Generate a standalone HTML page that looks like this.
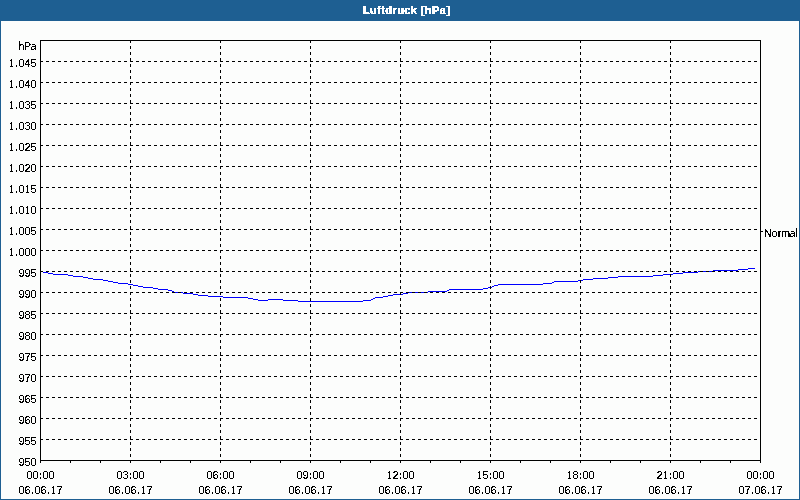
<!DOCTYPE html>
<html><head><meta charset="utf-8"><title>Luftdruck [hPa]</title><style>
html,body{margin:0;padding:0;}
body{width:800px;height:500px;overflow:hidden;background:#fcfdfc;}
svg{display:block;}
text{font-family:"Liberation Sans",Arial,sans-serif;font-size:11px;fill:#000;text-anchor:middle;}
.ti{font-weight:bold;fill:#fff;text-anchor:start;letter-spacing:0.4px;}
</style></head><body>
<svg width="800" height="500" viewBox="0 0 800 500">
<defs><filter id="crisp" x="-5%" y="-5%" width="110%" height="110%" color-interpolation-filters="sRGB"><feComponentTransfer><feFuncA type="discrete" tableValues="0 0 1 1 1"/></feComponentTransfer></filter><filter id="crispb" x="-5%" y="-5%" width="110%" height="110%" color-interpolation-filters="sRGB"><feComponentTransfer><feFuncA type="discrete" tableValues="0 1 1 1"/></feComponentTransfer></filter></defs>
<rect x="0" y="0" width="800" height="500" fill="#fcfdfc"/>
<rect x="0" y="0" width="800" height="21" fill="#1e5f92"/>
<path d="M0.5 21V499.5H799.5V21" stroke="#1e5f92" stroke-width="1" fill="none" shape-rendering="crispEdges"/>
<path d="M40 271.5H43M43 272.5H48M48 273.5H53M53 274.5H68M68 275.5H73M73 276.5H83M83 277.5H88M88 278.5H93M93 279.5H103M103 280.5H108M108 281.5H113M113 282.5H118M118 283.5H128M128 284.5H133M133 285.5H138M138 286.5H143M143 287.5H153M153 288.5H158M158 289.5H168M168 290.5H172M172 291.5H174M174 292.5H183M183 293.5H193M193 294.5H198M198 295.5H208M208 296.5H223M223 297.5H248M248 298.5H253M253 299.5H258M258 300.5H268M268 299.5H283M283 300.5H298M298 301.5H363M363 300.5H371M371 299.5H373M373 298.5H375M375 297.5H383M383 296.5H388M388 295.5H393M393 294.5H403M403 293.5H408M408 292.5H428M428 291.5H447M447 290.5H449M449 289.5H483M483 288.5H488M488 287.5H492M492 286.5H494M494 285.5H498M498 284.5H543M543 283.5H552M552 282.5H554M554 281.5H578M578 280.5H583M583 279.5H593M593 278.5H608M608 277.5H618M618 276.5H653M653 275.5H663M663 274.5H673M673 273.5H683M683 272.5H698M698 271.5H713M713 270.5H738M738 269.5H748M748 268.5H755" stroke="#0000ff" stroke-width="1" fill="none" shape-rendering="crispEdges"/>
<path d="M40 61.5H760M40 82.5H760M40 103.5H760M40 124.5H760M40 145.5H760M40 166.5H760M40 187.5H760M40 208.5H760M40 229.5H760M40 250.5H760M40 271.5H760M40 292.5H760M40 313.5H760M40 334.5H760M40 355.5H760M40 376.5H760M40 397.5H760M40 418.5H760M40 439.5H760M130.5 40V460M220.5 40V460M310.5 40V460M400.5 40V460M490.5 40V460M580.5 40V460M670.5 40V460" stroke="#000" stroke-width="1" stroke-dasharray="3 3" fill="none" shape-rendering="crispEdges"/>
<path d="M40.5 40V463M760.5 40V463M40 40.5H761M40 460.5H761M40.5 460V463M70.5 460V463M100.5 460V463M130.5 460V463M160.5 460V463M190.5 460V463M220.5 460V463M250.5 460V463M280.5 460V463M310.5 460V463M340.5 460V463M370.5 460V463M400.5 460V463M430.5 460V463M460.5 460V463M490.5 460V463M520.5 460V463M550.5 460V463M580.5 460V463M610.5 460V463M640.5 460V463M670.5 460V463M700.5 460V463M730.5 460V463M760.5 460V463M761 231.5H763" stroke="#000" stroke-width="1" fill="none" shape-rendering="crispEdges"/>
<text class="ti" x="363" y="14" filter="url(#crispb)">Luftdruck [hPa]</text>
<g filter="url(#crisp)">
<text x="11.5 16.5 21.5 27.5 33.5" y="67">1.045</text>
<text x="11.5 16.5 21.5 27.5 33.5" y="88">1.040</text>
<text x="11.5 16.5 21.5 27.5 33.5" y="109">1.035</text>
<text x="11.5 16.5 21.5 27.5 33.5" y="130">1.030</text>
<text x="11.5 16.5 21.5 27.5 33.5" y="151">1.025</text>
<text x="11.5 16.5 21.5 27.5 33.5" y="172">1.020</text>
<text x="11.5 16.5 21.5 27.5 33.5" y="193">1.015</text>
<text x="11.5 16.5 21.5 27.5 33.5" y="214">1.010</text>
<text x="11.5 16.5 21.5 27.5 33.5" y="235">1.005</text>
<text x="11.5 16.5 21.5 27.5 33.5" y="256">1.000</text>
<text x="21.5 27.5 33.5" y="277">995</text>
<text x="21.5 27.5 33.5" y="298">990</text>
<text x="21.5 27.5 33.5" y="319">985</text>
<text x="21.5 27.5 33.5" y="340">980</text>
<text x="21.5 27.5 33.5" y="361">975</text>
<text x="21.5 27.5 33.5" y="382">970</text>
<text x="21.5 27.5 33.5" y="403">965</text>
<text x="21.5 27.5 33.5" y="424">960</text>
<text x="21.5 27.5 33.5" y="445">955</text>
<text x="21.5 27.5 33.5" y="466">950</text>
<text x="21.5 27.5 33.5" y="50">hPa</text>
<text x="29.5 35.5 40.5 45.5 51.5" y="479">00:00</text>
<text x="21.5 27.5 32.5 37.5 43.5 48.5 53.5 59.5" y="494">06.06.17</text>
<text x="119.5 125.5 130.5 135.5 141.5" y="479">03:00</text>
<text x="111.5 117.5 122.5 127.5 133.5 138.5 143.5 149.5" y="494">06.06.17</text>
<text x="209.5 215.5 220.5 225.5 231.5" y="479">06:00</text>
<text x="201.5 207.5 212.5 217.5 223.5 228.5 233.5 239.5" y="494">06.06.17</text>
<text x="299.5 305.5 310.5 315.5 321.5" y="479">09:00</text>
<text x="291.5 297.5 302.5 307.5 313.5 318.5 323.5 329.5" y="494">06.06.17</text>
<text x="389.5 395.5 400.5 405.5 411.5" y="479">12:00</text>
<text x="381.5 387.5 392.5 397.5 403.5 408.5 413.5 419.5" y="494">06.06.17</text>
<text x="479.5 485.5 490.5 495.5 501.5" y="479">15:00</text>
<text x="471.5 477.5 482.5 487.5 493.5 498.5 503.5 509.5" y="494">06.06.17</text>
<text x="569.5 575.5 580.5 585.5 591.5" y="479">18:00</text>
<text x="561.5 567.5 572.5 577.5 583.5 588.5 593.5 599.5" y="494">06.06.17</text>
<text x="659.5 665.5 670.5 675.5 681.5" y="479">21:00</text>
<text x="651.5 657.5 662.5 667.5 673.5 678.5 683.5 689.5" y="494">06.06.17</text>
<text x="749.5 755.5 760.5 765.5 771.5" y="479">00:00</text>
<text x="741.5 747.5 752.5 757.5 763.5 768.5 773.5 779.5" y="494">07.06.17</text>
<text x="768 774.5 779.5 785.5 792.5 796.5" y="237">Normal</text>
</g>
<path d="M16 65h1v1h-1zM16 86h1v1h-1zM16 107h1v1h-1zM16 128h1v1h-1zM16 149h1v1h-1zM16 170h1v1h-1zM16 191h1v1h-1zM16 212h1v1h-1zM16 233h1v1h-1zM16 254h1v1h-1zM19 41h1v1h-1zM796 228h1v1h-1zM40 477h1v1h-1zM40 474h1v1h-1zM32 492h1v1h-1zM48 492h1v1h-1zM130 477h1v1h-1zM130 474h1v1h-1zM122 492h1v1h-1zM138 492h1v1h-1zM220 477h1v1h-1zM220 474h1v1h-1zM212 492h1v1h-1zM228 492h1v1h-1zM310 477h1v1h-1zM310 474h1v1h-1zM302 492h1v1h-1zM318 492h1v1h-1zM400 477h1v1h-1zM400 474h1v1h-1zM392 492h1v1h-1zM408 492h1v1h-1zM490 477h1v1h-1zM490 474h1v1h-1zM482 492h1v1h-1zM498 492h1v1h-1zM580 477h1v1h-1zM580 474h1v1h-1zM572 492h1v1h-1zM588 492h1v1h-1zM670 477h1v1h-1zM670 474h1v1h-1zM662 492h1v1h-1zM678 492h1v1h-1zM760 477h1v1h-1zM760 474h1v1h-1zM752 492h1v1h-1zM768 492h1v1h-1z" fill="#000" shape-rendering="crispEdges"/>
<path d="M10 59h1v1h-1zM9 66h1v1h-1zM13 66h1v1h-1zM10 80h1v1h-1zM9 87h1v1h-1zM13 87h1v1h-1zM10 101h1v1h-1zM9 108h1v1h-1zM13 108h1v1h-1zM10 122h1v1h-1zM9 129h1v1h-1zM13 129h1v1h-1zM10 143h1v1h-1zM9 150h1v1h-1zM13 150h1v1h-1zM10 164h1v1h-1zM9 171h1v1h-1zM13 171h1v1h-1zM10 185h1v1h-1zM9 192h1v1h-1zM13 192h1v1h-1zM26 185h1v1h-1zM25 192h1v1h-1zM29 192h1v1h-1zM10 206h1v1h-1zM9 213h1v1h-1zM13 213h1v1h-1zM26 206h1v1h-1zM25 213h1v1h-1zM29 213h1v1h-1zM10 227h1v1h-1zM9 234h1v1h-1zM13 234h1v1h-1zM10 248h1v1h-1zM9 255h1v1h-1zM13 255h1v1h-1zM52 486h1v1h-1zM51 493h1v1h-1zM55 493h1v1h-1zM142 486h1v1h-1zM141 493h1v1h-1zM145 493h1v1h-1zM232 486h1v1h-1zM231 493h1v1h-1zM235 493h1v1h-1zM322 486h1v1h-1zM321 493h1v1h-1zM325 493h1v1h-1zM388 471h1v1h-1zM387 478h1v1h-1zM391 478h1v1h-1zM412 486h1v1h-1zM411 493h1v1h-1zM415 493h1v1h-1zM478 471h1v1h-1zM477 478h1v1h-1zM481 478h1v1h-1zM502 486h1v1h-1zM501 493h1v1h-1zM505 493h1v1h-1zM568 471h1v1h-1zM567 478h1v1h-1zM571 478h1v1h-1zM592 486h1v1h-1zM591 493h1v1h-1zM595 493h1v1h-1zM664 471h1v1h-1zM663 478h1v1h-1zM667 478h1v1h-1zM682 486h1v1h-1zM681 493h1v1h-1zM685 493h1v1h-1zM772 486h1v1h-1zM771 493h1v1h-1zM775 493h1v1h-1z" fill="#fcfdfc" shape-rendering="crispEdges"/>
</svg>
</body></html>
